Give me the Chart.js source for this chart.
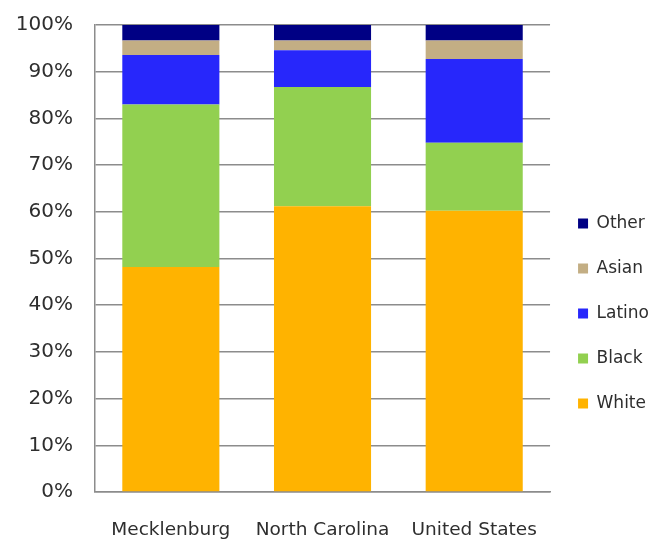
<!DOCTYPE html>
<html>
<head>
<meta charset="utf-8">
<script src="https://cdn.jsdelivr.net/npm/chart.js@4/dist/chart.umd.min.js"></script>
<style>
  html, body { margin: 0; padding: 0; background: #fff; }
  #wrap { width: 663px; height: 539px; }
</style>
</head>
<body>
<div id="wrap"><canvas id="race-chart"></canvas></div>
<script>
const areas = ["Mecklenburg", "North Carolina", "United States"];
const white = [48.2, 61.2, 60.2];
const black = [34.8, 25.5, 14.6];
const latino = [10.6, 7.9, 17.9];
const asian = [3.1, 2.1, 4.0];
const other = [3.3, 3.3, 3.3];
const yTicks = [0, 10, 20, 30, 40, 50, 60, 70, 80, 90, 100];

const textColor = "#2e2e2e";
const gridColor = "#8c8c8c";
const family = "'DejaVu Sans', sans-serif";

const ctx = document.getElementById("race-chart").getContext("2d");
const chart = new Chart(ctx, {
  type: "bar",
  data: {
    labels: areas,
    datasets: [
      { label: "White", data: white, backgroundColor: "#ffb300" },
      { label: "Black", data: black, backgroundColor: "#92d050" },
      { label: "Latino", data: latino, backgroundColor: "#2727fb" },
      { label: "Asian", data: asian, backgroundColor: "#c3ae84" },
      { label: "Other", data: other, backgroundColor: "#000084" },
    ],
  },
  options: {
    responsive: true,
    maintainAspectRatio: false,
    animation: false,
    layout: { padding: { top: 25, left: 10, right: 4, bottom: 0 } },
    datasets: {
      bar: { barPercentage: 0.64, categoryPercentage: 1 },
    },
    scales: {
      x: {
        stacked: true,
        grid: { display: false },
        border: { color: gridColor, width: 1.5 },
        ticks: {
          color: textColor,
          font: { family: family, size: 18.5 },
          padding: 19,
          maxRotation: 0,
        },
        afterFit: (scale) => {
          scale.height = 47;
        },
      },
      y: {
        stacked: true,
        min: 0,
        max: 100,
        afterBuildTicks: (scale) => {
          scale.ticks = yTicks.map((v) => ({ value: v }));
        },
        afterFit: (scale) => {
          scale.width = 85;
          scale.paddingTop = 0;
          scale.paddingBottom = 0;
        },
        grid: { color: gridColor, lineWidth: 1.5, drawTicks: false },
        border: { color: gridColor, width: 1.5 },
        ticks: {
          color: textColor,
          font: { family: family, size: 20 },
          padding: 22,
          callback: (v) => v + "%",
        },
      },
    },
    plugins: {
      legend: {
        position: "right",
        reverse: true,
        title: {
          display: true,
          text: " ",
          font: { size: 10 },
          padding: { top: 51, bottom: 0 },
        },
        labels: {
          color: textColor,
          font: { family: family, size: 17 },
          boxWidth: 10,
          boxHeight: 10,
          padding: 28,
        },
      },
      tooltip: { enabled: false },
    },
  },
});
</script>
</body>
</html>
